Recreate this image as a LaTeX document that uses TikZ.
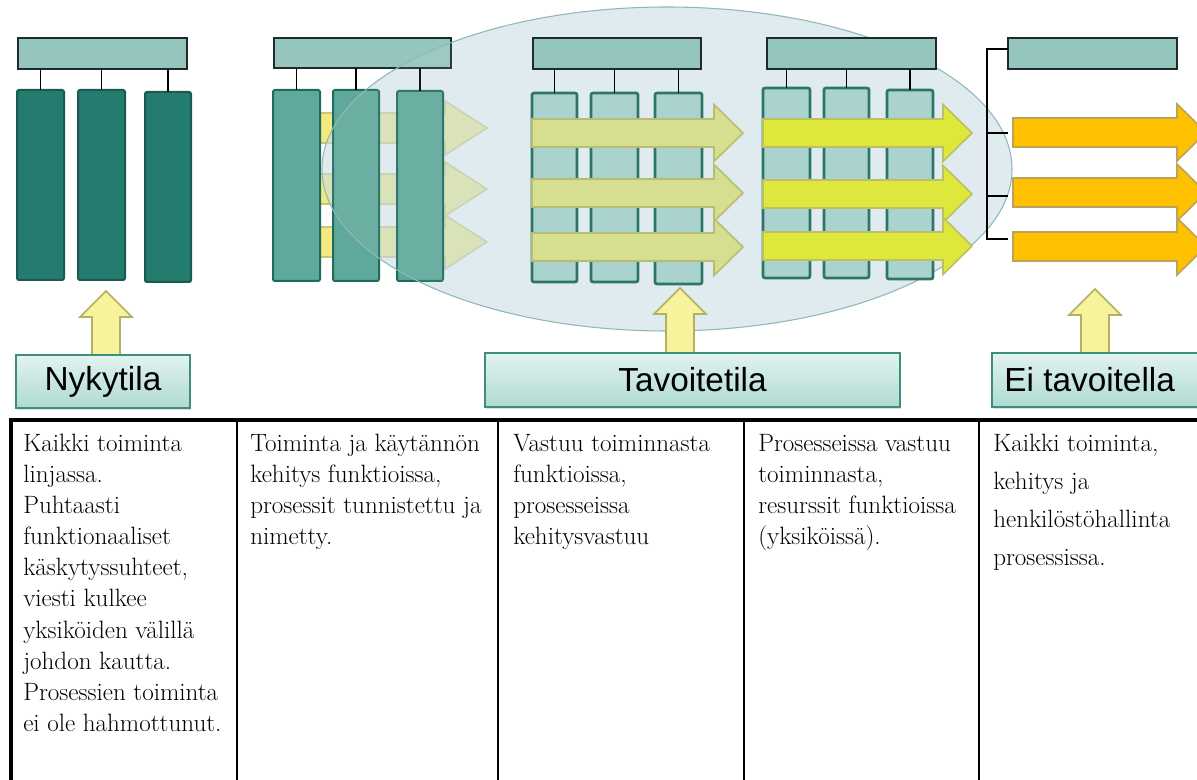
\documentclass[tikz,border=0pt]{standalone}
\usepackage{fontspec}
\newfontfamily\lblfont{Liberation Sans}
\usetikzlibrary{shadows}
\definecolor{gonefill}{HTML}{247C6E}
\definecolor{gonedraw}{HTML}{1B5A50}
\definecolor{gtwofill}{HTML}{5FA99C}
\definecolor{gtwodraw}{HTML}{1E6A5D}
\definecolor{glightfill}{HTML}{AAD2CE}
\definecolor{glightdraw}{HTML}{2D7569}
\definecolor{hdrfill}{HTML}{94C6BD}
\definecolor{hdrdraw}{HTML}{202A2A}
\definecolor{arrtwofill}{HTML}{F2EA80}
\definecolor{arrtwodraw}{HTML}{C9C47A}
\definecolor{arrthreefill}{HTML}{D5DF8F}
\definecolor{arrthreedraw}{HTML}{B9BD72}
\definecolor{arrfourfill}{HTML}{DEE83C}
\definecolor{arrfourdraw}{HTML}{BDBF63}
\definecolor{arrfivefill}{HTML}{FFC000}
\definecolor{arrfivedraw}{HTML}{B9A45A}
\definecolor{upfill}{HTML}{F7F29C}
\definecolor{updraw}{HTML}{B5B060}
\definecolor{ellfill}{HTML}{C2D9DF}
\definecolor{elldraw}{HTML}{8FB8B8}
\definecolor{lbltop}{HTML}{E2F3F0}
\definecolor{lblbot}{HTML}{AEDAD0}
\definecolor{lbldraw}{HTML}{3E8E7E}
\newcommand{\boxnode}[6]{\node[#2, inner sep=0pt, outer sep=0pt, minimum width={(#5-#3)*0.75pt}, minimum height={(#6-#4)*0.75pt}] (#1) at ({(#3+#5)/2},{(#4+#6)/2}) {};}
\newcommand{\lblnode}[6]{\node[lblbox, inner sep=0pt, minimum width={(#4-#2)*0.75pt}, minimum height={(#5-#3)*0.75pt}] (#1) at ({(#2+#4)/2},{(#3+#5)/2}) {#6};}
\newcommand{\hblk}[7]{\draw[#1] (#2,#5-#6) -- (#3,#5-#6) -- (#3,#5-#7) -- (#4,#5) -- (#3,#5+#7) -- (#3,#5+#6) -- (#2,#5+#6) -- cycle;}
\newcommand{\vblk}[3]{\draw[uparrow] (#1-14,#3) -- (#1-14,#2+26) -- (#1-26,#2+26) -- (#1,#2) -- (#1+26,#2+26) -- (#1+14,#2+26) -- (#1+14,#3) -- cycle;}
\begin{document}
\begin{tikzpicture}[x=0.75pt,y=-0.75pt,
  colone/.style={draw=gonedraw, fill=gonefill, line width=1.5pt, rounded corners=1.5pt},
  coltwo/.style={draw=gtwodraw, fill=gtwofill, line width=1.5pt, rounded corners=1.5pt},
  collight/.style={draw=glightdraw, fill=glightfill, line width=2pt, rounded corners=1.5pt},
  hdr/.style={draw=hdrdraw, fill=hdrfill, line width=1.5pt},
  conn/.style={draw=black, line width=1.1pt},
  arrtwo/.style={draw=arrtwodraw, fill=arrtwofill, line width=1.2pt},
  arrthree/.style={draw=arrthreedraw, fill=arrthreefill, line width=1.2pt},
  arrfour/.style={draw=arrfourdraw, fill=arrfourfill, line width=1.2pt},
  arrfive/.style={draw=arrfivedraw, fill=arrfivefill, line width=1.2pt},
  uparrow/.style={draw=updraw, fill=upfill, line width=1.2pt},
  lblbox/.style={draw=lbldraw, line width=1.2pt, top color=lbltop, bottom color=lblbot, font=\lblfont\fontsize{25}{29}\selectfont, drop shadow={shadow xshift=1pt, shadow yshift=-1.5pt, opacity=0.25}},
  tabline/.style={draw=black, line width=1.5pt},
  tabthick/.style={draw=black, line width=3pt},
  celltext/.style={anchor=north west, inner sep=0pt, align=left, font=\fontsize{18.8}{23.3}\selectfont},
]
\useasboundingbox (0,0) rectangle (1197,780);
\fill[white] (0,0) rectangle (1197,780);
\begin{scope}
\clip (0,0) rectangle (1197,780);

% ---------- group 1 ----------
\boxnode{hone}{hdr}{18}{38}{187}{69}
\boxnode{gonea}{colone}{17}{90}{64}{280}
\boxnode{goneb}{colone}{78}{90}{125}{280}
\boxnode{gonec}{colone}{145}{92}{191}{282}
\foreach \c in {gonea,goneb,gonec} \draw[conn] (\c.north) -- (\c.north |- hone.south);

% ---------- group 2 arrows, then ellipse fill ----------
\hblk{arrtwo}{290}{445}{487}{128}{15}{27}
\hblk{arrtwo}{290}{445}{487}{189}{15}{27}
\hblk{arrtwo}{290}{445}{487}{242}{15}{27}
\fill[ellfill, fill opacity=0.55] (667,169) ellipse [x radius=345, y radius=162];

% ---------- group 2 columns ----------
\boxnode{htwo}{hdr}{274}{38}{451}{68}
\boxnode{gtwoa}{coltwo}{273}{90}{320}{281}
\boxnode{gtwob}{coltwo}{333}{90}{379}{281}
\boxnode{gtwoc}{coltwo}{397}{91}{443}{281}
\foreach \c in {gtwoa,gtwob,gtwoc} \draw[conn] (\c.north) -- (\c.north |- htwo.south);
\fill[white, fill opacity=0.08] (667,169) ellipse [x radius=345, y radius=162];
\draw[elldraw, line width=0.8pt] (667,169) ellipse [x radius=345, y radius=162];

% ---------- group 3 ----------
\boxnode{hthree}{hdr}{533}{38}{701}{69}
\boxnode{gthreea}{collight}{532}{93}{577}{282}
\boxnode{gthreeb}{collight}{591}{93}{638}{282}
\boxnode{gthreec}{collight}{655}{93}{702}{284}
\foreach \c in {gthreea,gthreeb,gthreec} \draw[conn] (\c.north) -- (\c.north |- hthree.south);
\hblk{arrthree}{532}{714}{743}{133}{14}{28.5}
\hblk{arrthree}{532}{714}{743}{193}{14}{28.5}
\hblk{arrthree}{532}{714}{743}{247}{14}{28.5}

% ---------- group 4 ----------
\boxnode{hfour}{hdr}{767}{38}{936}{69}
\boxnode{gfoura}{collight}{763}{88}{810}{278}
\boxnode{gfourb}{collight}{824}{88}{869}{278}
\boxnode{gfourc}{collight}{887}{90}{933}{279}
\foreach \c in {gfoura,gfourb,gfourc} \draw[conn] (\c.north) -- (\c.north |- hfour.south);
\hblk{arrfour}{763}{943}{972}{133}{14}{28.5}
\hblk{arrfour}{763}{943}{972}{194}{14}{28.5}
\hblk{arrfour}{763}{943}{972}{246}{14}{28.5}

% ---------- group 5 ----------
\boxnode{hfive}{hdr}{1008}{38}{1177}{69}
\coordinate (bktop) at (987,49);
\coordinate (bkbot) at (987,239);
\coordinate (tka) at (1008,133);
\coordinate (tkb) at (1008,196);
\coordinate (tkc) at (1008,239);
\draw[conn] (hfive.west |- bktop) -- (bktop) -- (bkbot) -- (tkc);
\draw[conn] (tka -| bktop) -- (tka);
\draw[conn] (tkb -| bktop) -- (tkb);
\hblk{arrfive}{1013}{1177}{1206}{132.5}{14.5}{28.5}
\hblk{arrfive}{1013}{1177}{1206}{192.5}{14.5}{28.5}
\hblk{arrfive}{1013}{1177}{1206}{246.5}{14.5}{28.5}

% ---------- up arrows ----------
\vblk{106}{291}{356}
\vblk{680}{288}{356}
\vblk{1095}{289}{356}

% ---------- labels ----------
\lblnode{lnyk}{16}{355}{190}{408}{Nykytila}
\lblnode{ltav}{485}{353}{900}{407}{Tavoitetila}
\lblnode{lei}{992}{353}{1210}{407}{\hspace*{-17pt}Ei tavoitella}

% ---------- table ----------
\draw[tabline] (237,420) -- (237,780);
\draw[tabline] (498,420) -- (498,780);
\draw[tabline] (744,420) -- (744,780);
\draw[tabline] (979,420) -- (979,780);
\draw[tabthick] (10.5,780) -- (10.5,420);
\draw[tabthick] (9,420) -- (1197,420);

\node[celltext] (tone) at (23,434) {Kaikki toiminta\\linjassa.\\Puhtaasti\\funktionaaliset\\käskytyssuhteet,\\viesti kulkee\\yksiköiden välillä\\johdon kautta.\\Prosessien toiminta\\ei ole hahmottunut.};
\node[celltext] (ttwo) at (250,434) {Toiminta ja käytännön\\kehitys funktioissa,\\prosessit tunnistettu ja\\nimetty.};
\node[celltext] (tthree) at (513,434) {Vastuu toiminnasta\\funktioissa,\\prosesseissa\\kehitysvastuu};
\node[celltext] (tfour) at (758,434) {Prosesseissa vastuu\\toiminnasta,\\resurssit funktioissa\\(yksiköissä).};
\node[celltext, font=\fontsize{18.8}{28.5}\selectfont] (tfive) at (993,434) {Kaikki toiminta,\\kehitys ja\\henkilöstöhallinta\\prosessissa.};
\end{scope}
\end{tikzpicture}
\end{document}
